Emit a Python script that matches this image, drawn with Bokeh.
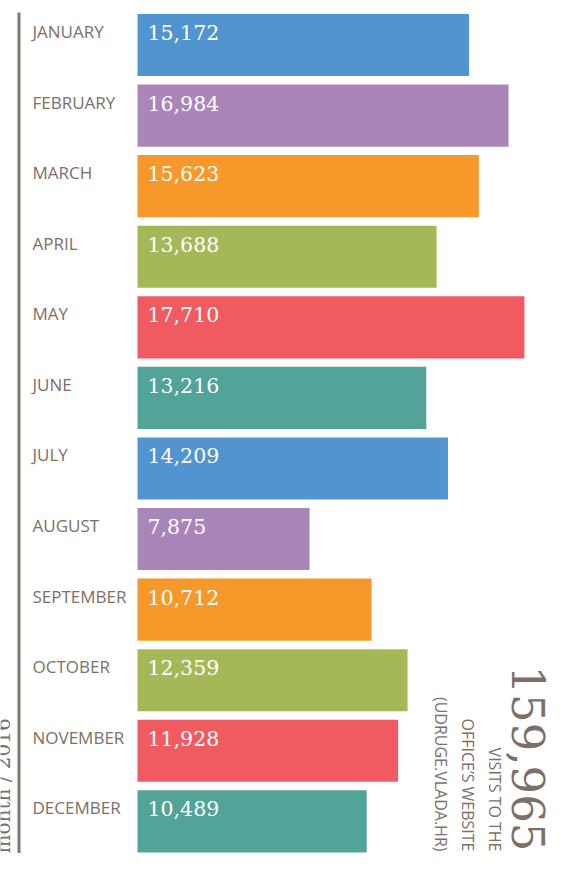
import math
from bokeh.plotting import figure
from bokeh.models import Range1d, ColumnDataSource
from bokeh.core.properties import value
from bokeh.embed import file_html
from bokeh.resources import INLINE

# ---- data ----
months = ["JANUARY", "FEBRUARY", "MARCH", "APRIL", "MAY", "JUNE", "JULY",
          "AUGUST", "SEPTEMBER", "OCTOBER", "NOVEMBER", "DECEMBER"]
visits = [15172, 16984, 15623, 13688, 17710, 13216, 14209,
          7875, 10712, 12359, 11928, 10489]
palette = ["#5294cf", "#a985b9", "#f7982a", "#a5b858", "#f05b61", "#52a398"]
axis_title = "month / 2016"
subtitle_lines = ["VISITS TO THE", "OFFICE\u2019S WEBSITE", "(UDRUGE.VLADA.HR)"]

# ---- layout ----
W, H = 554, 853
X0 = 137.0          # pixel where 0 visits sits
PX = 0.02185        # pixels per visit
TOP = 44.5          # pixel centre of first row
PITCH = 70.58       # pixels between rows
TXT = "#7c6f69"

def dx(px):
    return (px - X0) / PX

def dy(py):
    return (py - TOP) / PITCH

idx = list(range(len(months)))
colors = [palette[i % len(palette)] for i in idx]

p = figure(width=W, height=H, output_backend="svg", toolbar_location=None,
           x_range=Range1d(dx(0), dx(W)), y_range=Range1d(dy(H), dy(0)),
           min_border=0, outline_line_color=None)
p.axis.visible = False
p.grid.visible = False
p.background_fill_color = "white"
p.border_fill_color = "white"

src = ColumnDataSource(dict(
    y=idx, v=visits, c=colors, m=months,
    lbl=[f"{v:,}" for v in visits],
    ym=[i - 13.5 / PITCH for i in idx],
    yv=[i - 12.5 / PITCH for i in idx],
    xm=[dx(32)] * len(idx),
    xv=[dx(147)] * len(idx),
))

# bars
p.hbar(y="y", left=0, right="v", height=0.88, fill_color="c", line_color=None, source=src)

# left rule
p.segment(x0=[dx(18.5)], x1=[dx(18.5)], y0=[dy(12)], y1=[dy(853)],
          line_color="#85786f", line_width=3)

# month labels
p.text(x="xm", y="ym", text="m", source=src, text_font=value("Open Sans"),
       text_font_size="17px", text_color=TXT,
       text_align="left", text_baseline="middle")

# value labels
p.text(x="xv", y="yv", text="lbl", source=src, text_font=value("DejaVu Serif"),
       text_font_size="20.5px", text_color="white",
       text_align="left", text_baseline="middle")

# total, rotated
total = sum(visits)
p.text(x=[dx(528)], y=[dy(851)], text=[f"{total:,}"], angle=-math.pi / 2,
       text_font=value("DejaVu Serif"), text_font_size="45px", text_color=TXT,
       text_align="right", text_baseline="middle")

for k, line in enumerate(subtitle_lines):
    p.text(x=[dx(494 - 27 * k)], y=[dy(851)], text=[line], angle=-math.pi / 2,
           text_font=value("Open Sans"), text_font_size="16px", text_color=TXT,
           text_align="right", text_baseline="middle")

# axis title on the left, rotated (cut by the page edge as in the original)
p.text(x=[dx(2)], y=[dy(853)], text=[axis_title], angle=math.pi / 2,
       text_font=value("DejaVu Serif"), text_font_size="20px", text_color=TXT,
       text_align="left", text_baseline="middle")

open("out.html", "w").write(file_html(p, INLINE))
